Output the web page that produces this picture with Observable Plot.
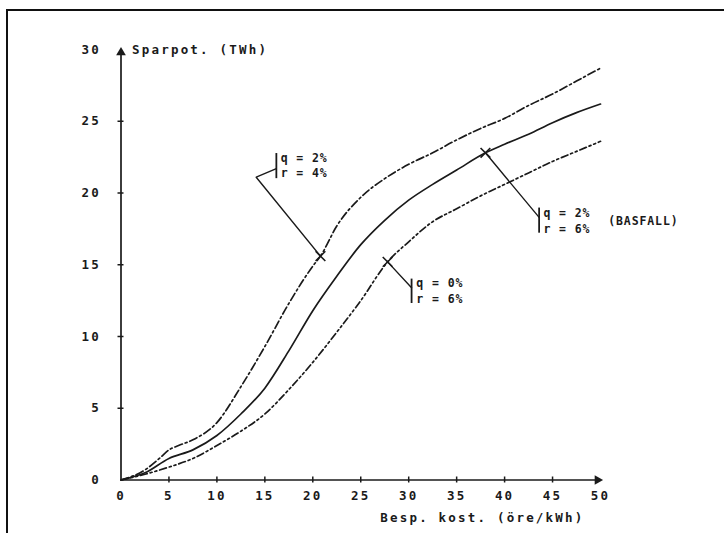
<!DOCTYPE html>
<html><head><meta charset="utf-8">
<script src="https://cdn.jsdelivr.net/npm/d3@7"></script>
<script src="https://cdn.jsdelivr.net/npm/@observablehq/plot@0.6"></script>
<style>
body{margin:0;background:#fff;}
#wrap{position:relative;width:724px;height:533px;overflow:hidden;background:#fff;}
#frame{position:absolute;left:6px;top:9px;width:800px;height:600px;border-top:2px solid #111;border-left:2px solid #111;}
#wrap svg{position:absolute;left:0;top:0;}
</style></head><body><div id="wrap"><div id="frame"></div></div>
<script>
// ---- data ----
const xLabels = [0, 5, 10, 15, 20, 25, 30, 35, 40, 45, 50];
const yLabels = [0, 5, 10, 15, 20, 25, 30];
const xTickMarks = [5, 10, 15, 20, 25, 30, 35, 40, 45];
const yTickMarks = [5, 10, 15, 20, 25];

// q = 2%, r = 4%  (dash-dot, top)
const xTop = [0, 2.5, 4, 5, 6, 7.5, 10, 12.5, 15, 17.5, 20, 20.8, 22.5, 25, 27.5, 30, 32.5, 35, 37.5, 40, 42.5, 45, 47.5, 50];
const yTop = [0, 0.7, 1.5, 2.1, 2.4, 2.8, 4.0, 6.5, 9.3, 12.3, 14.9, 15.6, 17.7, 19.7, 21.0, 22.0, 22.8, 23.7, 24.5, 25.2, 26.1, 26.9, 27.8, 28.7];
// q = 2%, r = 6%  (solid, BASFALL)
const xBas = [0, 2.5, 5, 7.5, 10, 12.5, 15, 17.5, 20, 22.5, 25, 27.5, 30, 32.5, 35, 38, 40, 42.5, 45, 47.5, 50];
const yBas = [0, 0.5, 1.5, 2.1, 3.1, 4.6, 6.4, 9.0, 11.8, 14.2, 16.4, 18.1, 19.5, 20.6, 21.6, 22.8, 23.4, 24.1, 24.9, 25.6, 26.2];
// q = 0%, r = 6%  (dash-dot-dot, bottom)
const xLow = [0, 2.5, 5, 7.5, 10, 12.5, 15, 17.5, 20, 22.5, 25, 27.8, 30, 32.5, 35, 37.5, 40, 42.5, 45, 47.5, 50];
const yLow = [0, 0.4, 0.9, 1.5, 2.4, 3.4, 4.6, 6.3, 8.2, 10.3, 12.5, 15.2, 16.6, 18.0, 18.9, 19.8, 20.6, 21.4, 22.2, 22.9, 23.6];

// marked points on each curve
const markTop = {x: 20.8, y: 15.6};
const markBas = {x: 38, y: 22.8};
const markLow = {x: 27.8, y: 15.2};

// annotation texts
const annTop = ["q = 2%", "r = 4%"];
const annBas = ["q = 2%", "r = 6%"];
const annLow = ["q = 0%", "r = 6%"];
const basfall = "(BASFALL)";
const yTitle = "Sparpot. (TWh)";
const xTitle = "Besp. kost. (öre/kWh)";

// ---- build ----
const toPts = (xs, ys) => xs.map((x, i) => ({x, y: ys[i]}));
const ink = "#1a1a1a";
const font = "'DejaVu Sans Mono', monospace";

const annotations = [
  {leader: [markTop, {x: 14.1, y: 21.1}, {x: 16.2, y: 21.7}], bx: 16.2, by1: 22.75, by2: 21.0, tx: 16.65, ty: [22.45, 21.35], lines: annTop},
  {leader: [markBas, {x: 43.6, y: 18.3}], bx: 43.6, by1: 18.95, by2: 17.2, tx: 44.05, ty: [18.6, 17.45], lines: annBas},
  {leader: [markLow, {x: 30.3, y: 13.4}], bx: 30.3, by1: 14.0, by2: 12.3, tx: 30.8, ty: [13.7, 12.6], lines: annLow}
];

const marks = [
  // axes
  Plot.ruleY([0], {x1: 0, x2: 50, stroke: ink, strokeWidth: 1.7}),
  Plot.ruleX([0], {y1: 0, y2: 30, stroke: ink, strokeWidth: 1.7}),
  Plot.dot([0], {x: 0, y: 30, symbol: "triangle", r: 3.6, fill: ink, stroke: "none", dy: 3}),
  Plot.dot([0], {x: 50, y: 0, symbol: "triangle", r: 3.6, fill: ink, stroke: "none", rotate: 90, dx: -3}),
  Plot.ruleX(xTickMarks, {x: d => d, y1: () => 0, y2: () => 0, insetTop: -3, insetBottom: -3, stroke: ink, strokeWidth: 1.5}),
  Plot.ruleY(yTickMarks, {y: d => d, x1: () => 0, x2: () => 0, insetLeft: -3, insetRight: -3, stroke: ink, strokeWidth: 1.5}),
  Plot.axisX({ticks: xLabels, tickSize: 0, tickPadding: 11, label: null, tickFormat: d => String(d), fill: ink}),
  Plot.axisY({ticks: yLabels, tickSize: 0, tickPadding: 20, label: null, tickFormat: d => String(d), fill: ink}),
  Plot.text([yTitle], {x: 0, y: 30, text: d => d, textAnchor: "start", dx: 11, fill: ink}),
  Plot.text([xTitle], {x: 50, y: 0, text: d => d, textAnchor: "end", dx: -16, dy: 38, fill: ink}),
  // curves
  Plot.line(toPts(xTop, yTop), {x: "x", y: "y", curve: "monotone-x", stroke: ink, strokeWidth: 1.7, strokeDasharray: "8,3,2,3"}),
  Plot.line(toPts(xBas, yBas), {x: "x", y: "y", curve: "monotone-x", stroke: ink, strokeWidth: 1.7}),
  Plot.line(toPts(xLow, yLow), {x: "x", y: "y", curve: "monotone-x", stroke: ink, strokeWidth: 1.7, strokeDasharray: "7,3,2,3,2,3"}),
  // marked points
  Plot.dot([markTop, markBas, markLow], {x: "x", y: "y", symbol: "times", r: 4.5, stroke: ink, strokeWidth: 1.6}),
];

for (const a of annotations) {
  marks.push(Plot.line(a.leader, {x: "x", y: "y", stroke: ink, strokeWidth: 1.4}));
  marks.push(Plot.ruleX([a.bx], {x: d => d, y1: () => a.by1, y2: () => a.by2, stroke: ink, strokeWidth: 1.8}));
  marks.push(Plot.text(a.lines.map((t, i) => ({x: a.tx, y: a.ty[i], t})), {x: "x", y: "y", text: "t", textAnchor: "start", fill: ink, fontSize: 11.5}));
}
marks.push(Plot.text([basfall], {x: 50.8, y: 18.05, text: d => d, textAnchor: "start", fill: ink, fontSize: 11.5}));

const chart = Plot.plot({
  width: 724,
  height: 533,
  marginLeft: 120.5,
  marginRight: 124,
  marginTop: 49,
  marginBottom: 53.5,
  x: {domain: [0, 50]},
  y: {domain: [0, 30]},
  style: {fontFamily: font, fontSize: "12.5px", fontWeight: "bold", letterSpacing: "2.2px", background: "transparent", color: ink, overflow: "visible"},
  marks
});
// tighter spacing for the annotation texts
for (const t of chart.querySelectorAll("text")) {
  if (/^[qr] =|BASFALL/.test(t.textContent)) t.style.letterSpacing = "0.9px";
}
document.getElementById("wrap").appendChild(chart);
</script>
</body></html>
